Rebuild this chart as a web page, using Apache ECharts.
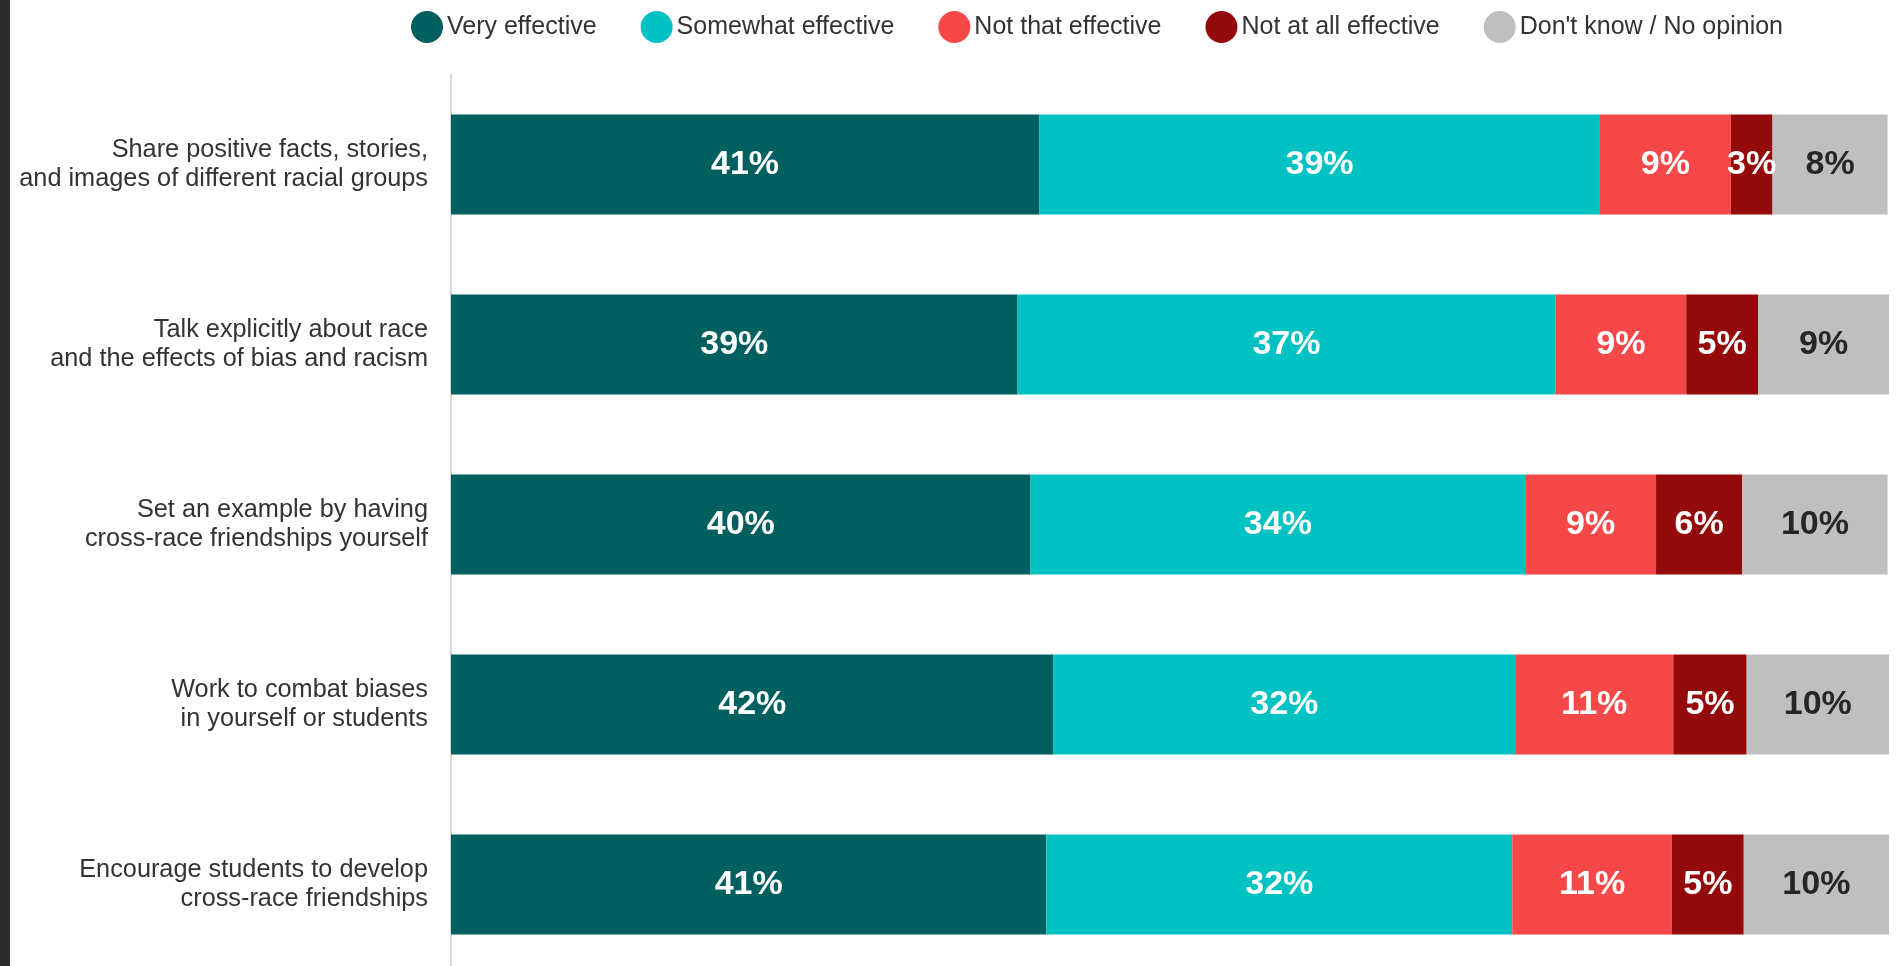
<!DOCTYPE html>
<html>
<head>
<meta charset="utf-8">
<script src="https://cdn.jsdelivr.net/npm/echarts@6/dist/echarts.min.js"></script>
<style>
html,body{margin:0;padding:0;background:#fff;}
#chart{width:1901px;height:966px;}
</style>
</head>
<body>
<div id="chart"></div>
<script>
const categories = [
  "Share positive facts, stories,\nand images of different racial groups",
  "Talk explicitly about race\nand the effects of bias and racism",
  "Set an example by having\ncross-race friendships yourself",
  "Work to combat biases\nin yourself or students",
  "Encourage students to develop\ncross-race friendships"
];
const seriesNames = ["Very effective", "Somewhat effective", "Not that effective", "Not at all effective", "Don't know / No opinion"];
const veryEffective     = [40.9, 39.4, 40.3, 41.9, 41.4];
const somewhatEffective = [39.0, 37.4, 34.4, 32.1, 32.4];
const notThatEffective  = [9.1, 9.1, 9.1, 11.0, 11.1];
const notAtAllEffective = [2.9, 5.0, 6.0, 5.1, 5.0];
const dontKnow          = [8.0, 9.1, 10.1, 9.9, 10.1];

const colors = ["#00605F", "#00C2C2", "#F64848", "#940A0A", "#BFBFBF"];
const labelColors = ["#ffffff", "#ffffff", "#ffffff", "#ffffff", "#262626"];
const allData = [veryEffective, somewhatEffective, notThatEffective, notAtAllEffective, dontKnow];
const FONT = "'Liberation Sans', Arial, Helvetica, sans-serif";

const chart = echarts.init(document.getElementById('chart'));
chart.setOption({
  animation: false,
  backgroundColor: '#ffffff',
  textStyle: { fontFamily: FONT },
  graphic: [{
    type: 'rect', left: 0, top: 0, z: 100,
    shape: { width: 10, height: 966 },
    style: { fill: '#2b2b2b' }
  }],
  legend: {
    left: 406, top: 6,
    icon: 'circle',
    itemWidth: 32, itemHeight: 32,
    itemGap: 44,
    textStyle: { fontSize: 25, color: '#333333', fontFamily: FONT, padding: [2, 0, 0, -1] },
    data: seriesNames
  },
  grid: { left: 451, right: 12, top: 74.5, height: 900, containLabel: false, outerBoundsMode: 'none' },
  xAxis: {
    type: 'value', min: 0, max: 100,
    show: false
  },
  yAxis: {
    type: 'category', inverse: true,
    data: categories,
    axisLine: { show: true, lineStyle: { color: '#d9d9d9', width: 2 } },
    axisTick: { show: false },
    axisLabel: {
      margin: 23, fontSize: 25.3, lineHeight: 29, color: '#333333',
      fontFamily: FONT, align: 'right', padding: [4, 0, 0, 0]
    },
    splitLine: { show: false }
  },
  series: allData.map((d, i) => ({
    name: seriesNames[i],
    type: 'bar',
    stack: 'total',
    barWidth: 100,
    data: d,
    itemStyle: { color: colors[i] },
    label: {
      show: true, position: 'inside',
      color: labelColors[i], fontSize: 34, fontWeight: 'bold', fontFamily: FONT,
      formatter: p => Math.round(p.value) + '%'
    }
  }))
});
</script>
</body>
</html>
